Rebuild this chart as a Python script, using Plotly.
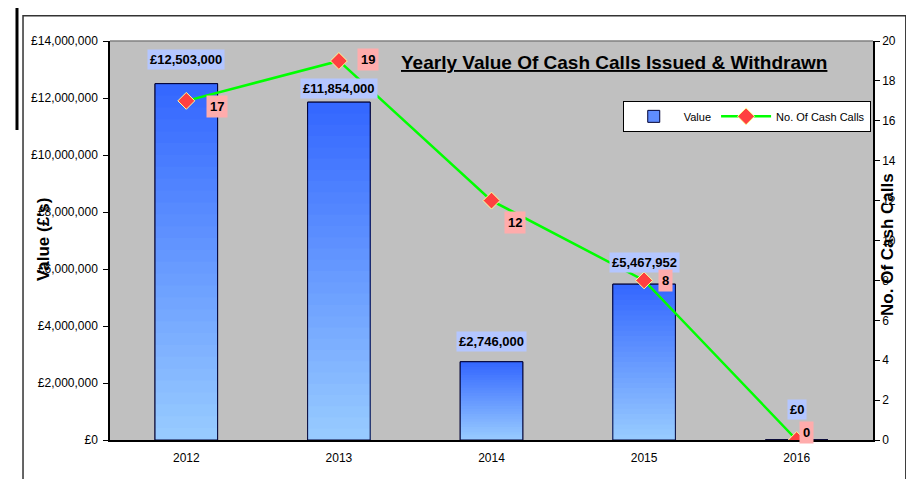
import plotly.graph_objects as go

years = ["2012", "2013", "2014", "2015", "2016"]
values = [12503000, 11854000, 2746000, 5467952, 0]
counts = [17, 19, 12, 8, 0]
value_ticks = list(range(0, 14000001, 2000000))
count_ticks = list(range(0, 21, 2))

FONT = "Liberation Sans, Arial, sans-serif"
BAR_W = 0.41
N_SEG = 30
TOP = (51, 102, 255)
BOT = (153, 204, 255)

xpos = list(range(len(years)))

fig = go.Figure()

# legend-carrying base bars
fig.add_trace(go.Bar(x=xpos, y=values, name="Value", width=BAR_W,
                     marker=dict(color="#5F8CFF", line=dict(color="#000033", width=1))))

# vertical gradient: nested overlaid bars, tallest (darkest) first
for k in range(N_SEG, 0, -1):
    t = (k - 0.5) / N_SEG
    c = tuple(round(BOT[j] + (TOP[j] - BOT[j]) * t) for j in range(3))
    fig.add_trace(go.Bar(x=xpos, y=[v * k / N_SEG for v in values], width=BAR_W,
                         marker=dict(color="rgb(%d,%d,%d)" % c, line=dict(width=0)),
                         showlegend=False, hoverinfo="skip"))

# outline
fig.add_trace(go.Bar(x=xpos, y=values, width=BAR_W, showlegend=False,
                     marker=dict(color="rgba(0,0,0,0)", line=dict(color="#000033", width=1)),
                     hoverinfo="skip"))

fig.add_trace(go.Scatter(x=xpos, y=counts, name="No. Of Cash Calls", yaxis="y2",
                         mode="lines+markers",
                         line=dict(color="#00FF00", width=2.5),
                         marker=dict(symbol="diamond", size=13, color="#FF4040",
                                     line=dict(color="#FFFF99", width=1))))

annotations = []
value_shift = [24, 14, 20, 22, 31]
for x, v, dy in zip(xpos, values, value_shift):
    annotations.append(dict(x=x, y=v, xref="x", yref="y", yshift=dy,
                            text="<b>£{:,}</b>".format(v), showarrow=False,
                            font=dict(family=FONT, size=13, color="black"),
                            bgcolor="#B4C6FF", borderpad=2))
count_shift = [(31, -6), (29, 1), (23, -22), (21, 0), (10, 8)]
for (x, c), (dx, dy) in zip(zip(xpos, counts), count_shift):
    annotations.append(dict(x=x, y=c, xref="x", yref="y2", xshift=dx, yshift=dy,
                            text="<b>%d</b>" % c, showarrow=False,
                            font=dict(family=FONT, size=13, color="black"),
                            bgcolor="#FFACAC", borderpad=3))
annotations.append(dict(x=0.661, y=0.947, xref="paper", yref="paper",
                        xanchor="center", yanchor="middle",
                        text="<b><u>Yearly Value Of Cash Calls Issued & Withdrawn</u></b>",
                        showarrow=False, font=dict(family=FONT, size=19, color="black")))
annotations.append(dict(x=-0.0878, y=0.501, xref="paper", yref="paper", textangle=-90,
                        xanchor="center", yanchor="middle",
                        text="<b>Value (£'s)</b>", showarrow=False,
                        font=dict(family=FONT, size=17, color="black")))
annotations.append(dict(x=1.0197, y=0.489, xref="paper", yref="paper", textangle=-90,
                        xanchor="center", yanchor="middle",
                        text="<b>No. Of Cash Calls</b>", showarrow=False,
                        font=dict(family=FONT, size=17, color="black")))

shapes = [
    dict(type="rect", xref="paper", yref="paper", x0=-0.114, x1=1.043, y0=-0.12, y1=1.063,
         line=dict(color="#333333", width=1.5)),
    dict(type="line", xref="paper", yref="paper", x0=-0.1219, x1=-0.1219, y0=0.777, y1=1.095,
         line=dict(color="black", width=3)),
    dict(type="line", xref="paper", yref="paper", x0=0, x1=1, y0=1, y1=1,
         line=dict(color="#808080", width=1.5)),
]

fig.update_layout(
    width=906, height=471,
    margin=dict(l=102, r=41, t=33, b=39),
    paper_bgcolor="white", plot_bgcolor="#C0C0C0",
    barmode="overlay",
    font=dict(family=FONT, size=12, color="black"),
    xaxis=dict(range=[-0.5, len(years) - 0.5], tickvals=xpos, ticktext=years,
               showline=True, linecolor="black", linewidth=1.5,
               ticks="outside", ticklen=6, tickcolor="rgba(0,0,0,0)",
               showgrid=False, zeroline=False),
    yaxis=dict(range=[0, 14000000], tickvals=value_ticks,
               ticktext=["£{:,}".format(v) for v in value_ticks],
               showline=True, linecolor="black", linewidth=1.5, ticks="outside",
               ticklen=5, tickcolor="black", ticklabelstandoff=3,
               showgrid=False, zeroline=False),
    yaxis2=dict(range=[0, 20], tickvals=count_ticks, overlaying="y", side="right",
                showline=True, linecolor="black", linewidth=1.5, ticks="outside",
                ticklen=5, tickcolor="black", showgrid=False, zeroline=False),
    legend=dict(orientation="h", x=0.672, y=0.85, xanchor="left", yanchor="top",
                bgcolor="white", bordercolor="black", borderwidth=1,
                font=dict(size=11), itemwidth=50),
    annotations=annotations,
    shapes=shapes,
    showlegend=True,
)

fig.write_html("out.html")
